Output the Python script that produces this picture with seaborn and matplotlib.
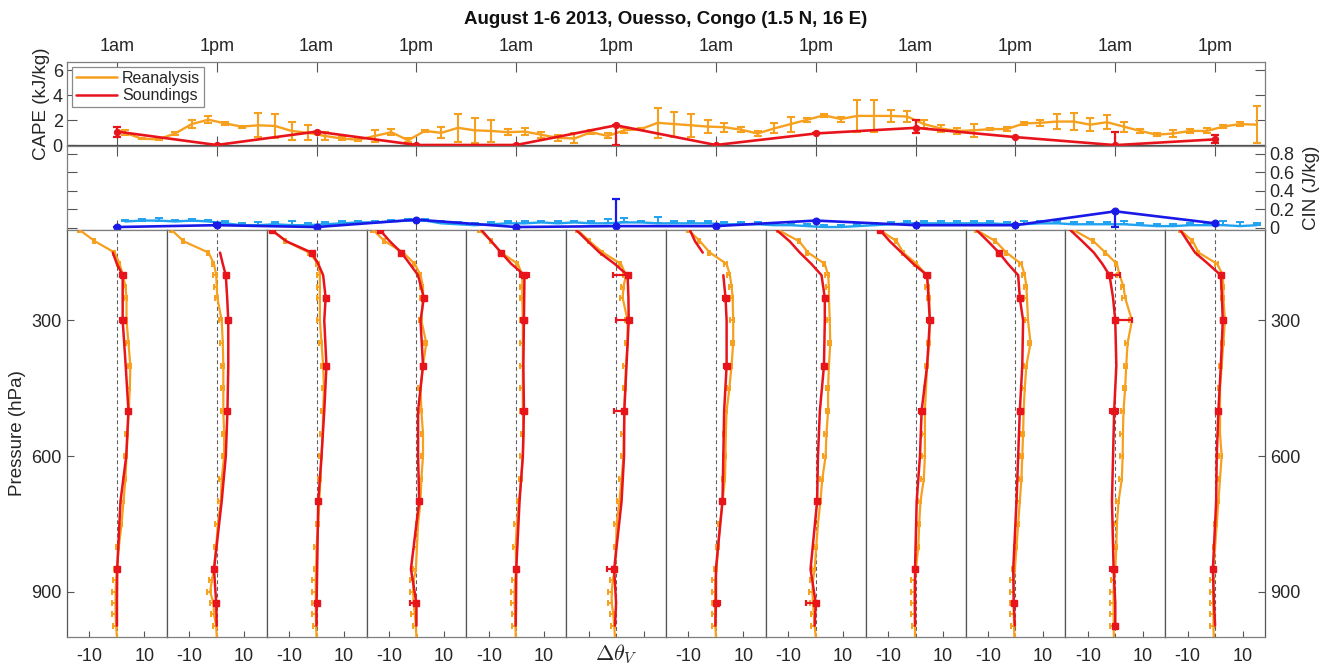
import numpy as np
import pandas as pd
import matplotlib
matplotlib.use("Agg")
import matplotlib.pyplot as plt
from matplotlib.lines import Line2D
import seaborn as sns

sns.set_theme(style="white")
plt.rcParams["font.family"] = ["Liberation Sans", "DejaVu Sans"]
plt.rcParams["mathtext.fontset"] = "cm"
plt.rcParams["axes.unicode_minus"] = False

ORANGE = "#F6A01E"
RED = "#E8141C"
LBLUE = "#20A2F0"
DBLUE = "#1A1AE8"
TEXT = "#262626"
FRAME = "#7F7F7F"
SEP = "#555555"

# ---------------- time series (hours after 01:00 local, 1 Aug 2013) ----------------
sounding_hours = [0, 12, 24, 36, 48, 60, 72, 84, 96, 108, 120, 132]
time_labels = ["1am", "1pm"] * 6
rean_hours = list(range(1, 138, 2))

rean_cape = [1.0, 0.53, 0.48, 0.95, 1.7, 2.05, 1.75, 1.5, 1.6, 1.55, 1.15, 1.0,
             0.75, 0.55, 0.45, 0.75, 1.05, 0.4, 1.15, 1.0, 1.4, 1.2, 1.15, 1.05,
             1.1, 0.85, 0.6, 0.55, 1.05, 0.75, 1.2, 1.3, 1.8, 1.7, 1.6, 1.5,
             1.45, 1.25, 0.95, 1.35, 1.7, 2.05, 2.4, 2.1, 2.35, 2.35, 2.35, 2.3,
             1.7, 1.35, 1.15, 1.2, 1.3, 1.3, 1.75, 1.8, 1.9, 1.9, 1.65, 1.85,
             1.5, 1.15, 0.85, 0.95, 1.15, 1.15, 1.5, 1.7, 1.65]
rean_cape_err = [0.2, 0.05, 0.05, 0.1, 0.35, 0.3, 0.1, 0.08, 0.95, 0.95, 0.7, 0.6,
                 0.3, 0.1, 0.1, 0.5, 0.25, 0.15, 0.1, 0.45, 1.1, 1.0, 0.9, 0.25,
                 0.3, 0.25, 0.25, 0.4, 0.15, 0.2, 0.2, 0.1, 1.2, 1.0, 0.9, 0.55,
                 0.35, 0.2, 0.2, 0.4, 0.6, 0.15, 0.1, 0.2, 1.3, 1.3, 0.5, 0.45,
                 0.3, 0.3, 0.25, 0.5, 0.1, 0.15, 0.1, 0.25, 0.6, 0.7, 0.5, 0.55,
                 0.4, 0.15, 0.1, 0.25, 0.15, 0.2, 0.15, 0.15, 1.5]

sond_cape = [1.1, 0.03, 1.1, 0.03, 0.03, 1.6, 0.03, 0.95, 1.4, 0.66, 0.02, 0.48]
sond_cape_lo = [0.4, 0, 0, 0, 0, 1.6, 0, 0, 0.4, 0, 0, 0.3]
sond_cape_hi = [0.4, 0, 0, 0, 0, 0, 0, 0, 0.65, 0, 1.05, 0.35]

rean_cin = [0.07, 0.08, 0.08, 0.07, 0.08, 0.07,
            0.05, 0.03, 0.03, 0.04, 0.03, 0.03,
            0.04, 0.05, 0.06, 0.06, 0.07, 0.08, 0.08,
            0.05, 0.04, 0.03, 0.04, 0.05,
            0.05, 0.06, 0.05, 0.06, 0.05, 0.05,
            0.06, 0.06, 0.05, 0.05, 0.05, 0.05, 0.04, 0.04,
            0.04, 0.03, 0.03, 0.02, 0.01, 0.01, 0.02, 0.03,
            0.04, 0.05, 0.05, 0.05, 0.05, 0.05, 0.05, 0.04,
            0.04, 0.05, 0.05, 0.04, 0.04, 0.04, 0.04, 0.03,
            0.02, 0.02, 0.03, 0.03, 0.03, 0.02, 0.03]
rean_cin_err = [0.02, 0.02, 0.03, 0.02, 0.02, 0.02,
                0.02, 0.02, 0.03, 0.02, 0.04, 0.02,
                0.02, 0.02, 0.02, 0.02, 0.02, 0.02, 0.02,
                0.02, 0.02, 0.02, 0.02, 0.02,
                0.02, 0.02, 0.02, 0.02, 0.02, 0.05,
                0.05, 0.02, 0.07, 0.02, 0.02, 0.02, 0.02, 0.02,
                0.02, 0.02, 0.02, 0.02, 0.02, 0.02, 0.02, 0.02,
                0.02, 0.02, 0.02, 0.02, 0.02, 0.02, 0.02, 0.02,
                0.04, 0.02, 0.02, 0.02, 0.02, 0.02, 0.04, 0.02,
                0.02, 0.02, 0.02, 0.02, 0.04, 0.04, 0.02]

sond_cin = [0.01, 0.03, 0.01, 0.09, 0.01, 0.02, 0.02, 0.08, 0.03, 0.03, 0.18, 0.05]
sond_cin_lo = [0, 0.01, 0, 0, 0, 0, 0, 0, 0, 0, 0.17, 0]
sond_cin_hi = [0, 0.02, 0, 0, 0, 0.29, 0, 0, 0, 0, 0, 0]

# ---------------- virtual potential temperature anomaly profiles ----------------
rean_levels = [100, 125, 150, 175, 200, 225, 250, 300, 350, 400, 450, 500, 550,
               600, 650, 700, 750, 800, 850, 875, 900, 925, 950, 975, 1000]
rean_spread = [0.6, 0.6, 0.6, 0.8, 1.0, 1.0, 1.0, 1.0, 0.9, 0.9, 0.9, 0.9, 0.9,
               0.9, 0.9, 0.9, 0.9, 0.9, 0.9, 1.2, 1.2, 1.2, 1.2, 1.2, np.nan]
rean_profiles = [
    [-13.6, -8.0, -0.8, 1.0, 2.2, 3.1, 3.5, 3.5, 4.2, 4.9, 4.7, 4.3, 3.9, 3.5, 3.1, 2.4, 1.7, 0.7, 0.0, -0.3, -0.5, -0.5, -0.5, -0.3, 0.0],
    [-16.4, -12.1, -3.0, -1.0, -0.2, 0.0, 0.2, 1.8, 2.2, 2.4, 2.4, 2.4, 2.7, 2.7, 1.8, 1.5, 0.4, -0.2, -1.0, -1.8, -2.4, -1.2, -1.0, -0.2, 0.0],
    [-16.4, -11.2, -2.7, 0.6, 1.2, 1.2, 1.2, 1.2, 1.8, 2.4, 2.7, 2.4, 2.2, 1.8, 1.4, 1.0, 0.6, 0.0, -0.2, -0.3, -0.3, -0.3, -0.3, -0.2, 0.0],
    [-15.8, -11.5, -4.8, -0.6, 1.5, 2.4, 2.4, 1.8, 3.6, 2.4, 1.5, 1.8, 2.4, 2.4, 1.8, 1.5, 0.6, 0.2, -0.2, -1.0, -1.2, -1.0, -0.6, -0.2, 0.0],
    [-13.3, -9.1, -5.5, 0.6, 2.2, 2.2, 2.2, 2.4, 2.4, 2.4, 2.4, 2.4, 2.7, 2.4, 1.8, 1.0, 0.2, -0.2, 0.0, -0.4, -0.6, -0.6, -0.4, -0.3, -0.2],
    [-14.0, -9.7, -4.8, 1.8, 3.6, 2.7, 2.4, 4.2, 4.2, 3.6, 3.3, 3.0, 2.8, 2.7, 2.0, 1.2, 0.2, 0.0, -0.4, -1.2, -1.6, -1.6, -1.0, -0.7, -0.4],
    [-10.0, -5.8, -2.2, 3.9, 5.1, 5.7, 6.1, 6.3, 6.3, 5.7, 4.9, 3.9, 3.6, 3.5, 3.3, 2.4, 1.5, 0.8, 0.2, -0.2, -0.3, -0.3, -0.3, -0.2, 0.0],
    [-13.7, -6.0, -2.8, 3.3, 4.5, 4.8, 4.8, 5.1, 5.3, 4.8, 4.5, 4.5, 3.9, 3.6, 2.4, 1.7, 0.8, 0.2, -0.4, -1.0, -1.2, -1.0, -0.7, -0.4, 0.0],
    [-13.0, -6.9, -4.5, 0.4, 4.0, 4.6, 5.0, 5.2, 5.0, 4.2, 3.8, 3.4, 3.4, 3.4, 3.0, 1.8, 1.3, 1.0, 0.1, -0.3, -0.4, -0.4, -0.3, -0.2, -0.2],
    [-14.2, -7.2, -3.3, 2.2, 3.4, 4.0, 4.2, 4.6, 5.5, 4.0, 3.4, 3.0, 2.8, 2.5, 2.2, 1.6, 1.0, 0.4, -0.2, -0.6, -0.6, -0.6, -0.6, -0.5, -0.4],
    [-15.2, -7.9, -3.6, 0.6, 1.6, 3.0, 3.6, 6.1, 4.5, 4.0, 3.6, 3.0, 2.8, 2.7, 2.4, 1.2, 0.6, 0.4, 0.0, -0.5, -0.6, -0.6, -0.6, -0.6, -0.5],
    [-12.7, -8.1, -6.0, 0.8, 2.8, 3.0, 3.0, 3.6, 3.0, 2.4, 1.8, 1.8, 1.8, 2.4, 1.8, 1.2, 0.6, 0.0, -0.6, -0.6, -0.7, -0.7, -0.6, -0.6, -0.5],
]

nan = np.nan
sond_levels = [100, 125, 150, 175, 200, 250, 300, 400, 500, 600, 700, 850, 925, 975]
sond_profiles = [
    [nan, nan, -1.5, 0.0, 2.1, 2.1, 2.1, 3.2, 4.2, 3.4, 1.3, 0.1, 0.0, 0.0],
    [nan, nan, 1.2, 2.2, 3.3, 3.8, 4.2, 4.2, 3.9, 3.3, 1.8, -1.0, -0.2, 0.0],
    [-16.4, -11.0, -1.8, 0.6, 2.4, 3.3, 2.8, 3.6, 2.8, 1.8, 0.6, 0.2, 0.0, 0.0],
    [-13.3, -9.7, -5.5, -2.4, 0.6, 2.7, 1.5, 2.4, 0.6, 0.6, 1.0, -2.0, 0.0, 0.0],
    [-12.7, -9.1, -5.5, -1.8, 3.0, 2.9, 2.8, 2.6, 2.8, 2.4, 1.2, 0.0, -0.1, -0.2],
    [-14.5, -10.3, -6.0, -0.5, 4.2, 4.5, 4.6, 3.8, 3.0, 2.9, 2.0, -0.7, 0.0, -0.4],
    [-9.5, -7.6, -4.8, nan, 2.7, 3.5, 3.9, 3.9, 3.0, 2.7, 2.4, 0.0, 0.0, -0.2],
    [-14.3, -9.5, -5.8, -1.6, 2.1, 3.3, 3.3, 3.0, 1.5, 0.8, 0.5, -1.9, 0.0, -0.4],
    [-13.0, -9.4, -5.1, -0.8, 4.2, 4.7, 5.2, 4.2, 2.2, 1.6, 0.4, -0.2, -0.2, -0.2],
    [-14.2, -10.0, -6.0, -2.7, 1.0, 1.6, 2.8, 2.5, 1.6, 1.0, 0.4, -0.8, -0.6, -0.2],
    [-16.4, -12.0, -7.8, -4.7, -2.1, -0.8, 0.0, 0.4, -0.4, -0.8, -1.2, -0.6, 0.0, 0.0],
    [-12.7, -10.0, -7.3, -2.5, 2.1, 2.5, 2.8, 2.1, 1.2, 0.6, 0.4, -0.8, -0.4, 0.0],
]
# (pressure, lower spread, upper spread) for the levels with a sounding error bar
sond_bars = [
    [(200, 0.8, 0.8), (300, 0.8, 0.8), (500, 0.6, 0.6), (850, 0.5, 0.5)],
    [(200, 0.6, 0.6), (300, 0.7, 0.7), (500, 0.6, 0.6), (850, 0.5, 0.5), (925, 0.5, 0.5)],
    [(100, 0.5, 0.5), (150, 0.5, 0.5), (250, 0.6, 0.6), (400, 0.6, 0.6), (700, 0.4, 0.4), (925, 0.4, 0.4)],
    [(100, 0.5, 0.5), (150, 0.5, 0.5), (250, 0.6, 0.6), (400, 0.6, 0.6), (700, 0.5, 0.5), (925, 2.4, 0.2)],
    [(150, 0.8, 0.8), (200, 1.5, 1.5), (300, 1.2, 1.2), (500, 1.0, 1.0), (850, 0.6, 0.6)],
    [(200, 5.2, 0.2), (300, 4.6, 0.2), (500, 3.6, 0.2), (850, 2.7, 0.2)],
    [(250, 0.8, 0.8), (400, 0.8, 0.8), (700, 0.5, 0.5), (925, 0.2, 1.5)],
    [(250, 0.6, 0.6), (400, 0.6, 0.6), (700, 0.5, 0.5), (925, 3.4, 0.2)],
    [(100, 0.5, 0.5), (200, 1.2, 1.2), (300, 1.0, 1.0), (500, 0.8, 0.8), (850, 0.6, 0.6)],
    [(150, 0.6, 0.6), (250, 0.6, 0.6), (500, 0.6, 0.6), (925, 0.5, 0.5)],
    [(200, 0.3, 4.0), (300, 0.6, 6.0), (500, 1.4, 1.4), (850, 1.4, 1.4), (975, 0.3, 0.3)],
    [(200, 0.7, 0.7), (300, 0.6, 0.6), (500, 0.4, 0.4), (850, 0.3, 0.3)],
]

# ---------------- figure layout (pixel boxes on a 1335 x 666 canvas) ----------------
W, H = 1335, 666
fig = plt.figure(figsize=(W / 100, H / 100), dpi=100)


def box(x0, y0, x1, y1):
    return [x0 / W, 1 - y1 / H, (x1 - x0) / W, (y1 - y0) / H]


LEFT, RIGHT = 67, 1265
ax_cape = fig.add_axes(box(LEFT, 62, RIGHT, 146))
ax_cin = fig.add_axes(box(LEFT, 146, RIGHT, 230))

for ax in (ax_cape, ax_cin):
    ax.set_xlim(-6, 138)
    ax.set_xticks(sounding_hours)
    for s in ax.spines.values():
        s.set_color(FRAME)
        s.set_linewidth(0.9)
    ax.tick_params(axis="both", which="both", direction="in", length=7, width=0.8,
                   color=SEP, labelcolor=TEXT, labelsize=13)
    ax.tick_params(axis="x", top=True, bottom=True)
    ax.tick_params(axis="y", left=True, right=True)

# CAPE panel
ax_cape.set_ylim(-0.05, 6.65)
ax_cape.axhline(0, color="#404040", lw=0.9, zorder=1)
ax_cape.errorbar(rean_hours, rean_cape, yerr=rean_cape_err, fmt="none",
                 ecolor=ORANGE, elinewidth=1.5, capsize=3, capthick=1.5, zorder=2)
cape_rean_df = pd.DataFrame({"hour": rean_hours, "cape": rean_cape})
sns.lineplot(data=cape_rean_df, x="hour", y="cape", ax=ax_cape, color=ORANGE,
             lw=1.7, sort=False, estimator=None, legend=False, zorder=3)
cape_sond_df = pd.DataFrame({"hour": sounding_hours, "cape": sond_cape})
sns.lineplot(data=cape_sond_df, x="hour", y="cape", ax=ax_cape, color=RED,
             lw=1.9, sort=False, estimator=None, legend=False, marker="o",
             markersize=4.5, markeredgecolor=RED, zorder=4)
ax_cape.errorbar(sounding_hours, sond_cape, yerr=[sond_cape_lo, sond_cape_hi],
                 fmt="none", ecolor=RED, elinewidth=1.6, capsize=3, capthick=1.6, zorder=4)
ax_cape.set_yticks([0, 2, 4, 6])
ax_cape.tick_params(axis="x", labeltop=True, labelbottom=False, pad=5)
ax_cape.tick_params(axis="y", labelleft=True, labelright=False, pad=3)
ax_cape.set_xticklabels(time_labels)
ax_cape.set_ylabel("CAPE (kJ/kg)", fontsize=13.5, color=TEXT, labelpad=2)
ax_cape.set_xlabel("")
handles = [Line2D([], [], color=ORANGE, lw=1.8), Line2D([], [], color=RED, lw=1.8)]
leg = ax_cape.legend(handles, ["Reanalysis", "Soundings"], loc="upper left",
                     fontsize=11.5, frameon=True, fancybox=False, framealpha=1,
                     edgecolor="#8a8a8a", borderpad=0.25, labelspacing=0.15,
                     handlelength=2.6, handletextpad=0.3, borderaxespad=0.3)
leg.get_frame().set_linewidth(0.9)

# CIN panel
ax_cin.set_ylim(-0.022, 0.886)
ax_cin.errorbar(rean_hours, rean_cin, yerr=[[0] * len(rean_cin_err), rean_cin_err],
                fmt="none", ecolor=LBLUE, elinewidth=1.4, capsize=3, capthick=1.4, zorder=2)
cin_rean_df = pd.DataFrame({"hour": rean_hours, "cin": rean_cin})
sns.lineplot(data=cin_rean_df, x="hour", y="cin", ax=ax_cin, color=LBLUE, lw=1.7,
             sort=False, estimator=None, legend=False, zorder=3)
cin_sond_df = pd.DataFrame({"hour": sounding_hours, "cin": sond_cin})
sns.lineplot(data=cin_sond_df, x="hour", y="cin", ax=ax_cin, color=DBLUE, lw=1.9,
             sort=False, estimator=None, legend=False, marker="o", markersize=5,
             markeredgecolor=DBLUE, zorder=4)
ax_cin.errorbar(sounding_hours, sond_cin, yerr=[sond_cin_lo, sond_cin_hi], fmt="none",
                ecolor=DBLUE, elinewidth=1.6, capsize=3, capthick=1.6, zorder=4)
ax_cin.set_yticks([0, 0.2, 0.4, 0.6, 0.8])
ax_cin.set_yticklabels(["0", "0.2", "0.4", "0.6", "0.8"])
ax_cin.tick_params(axis="x", labeltop=False, labelbottom=False)
ax_cin.tick_params(axis="y", labelleft=False, labelright=True, pad=3)
ax_cin.yaxis.set_label_position("right")
ax_cin.set_ylabel("CIN (J/kg)", fontsize=13.5, color=TEXT, labelpad=6)
ax_cin.set_xlabel("")

# Profile panels, one per sounding time
pw = (RIGHT - LEFT) / 12
for k in range(12):
    ax = fig.add_axes(box(LEFT + k * pw, 230, LEFT + (k + 1) * pw, 637))
    ax.set_xlim(-18.2, 18.2)
    ax.set_ylim(1000, 100)
    ax.axvline(0, color="#606060", lw=0.8, ls=(0, (3.5, 2.5)), zorder=1)

    rp = rean_profiles[k]
    ax.errorbar(rp, rean_levels, xerr=[rean_spread, [0.15] * len(rean_spread)],
                fmt="none", ecolor=ORANGE, elinewidth=1.4, capsize=2, capthick=1.4, zorder=2)
    sns.lineplot(x=rp, y=rean_levels, ax=ax, color=ORANGE, lw=1.6, sort=False,
                 estimator=None, legend=False, orient="y", zorder=3)

    sp = np.array(sond_profiles[k], dtype=float)
    lv = np.array(sond_levels, dtype=float)
    ok = ~np.isnan(sp)
    seg_id = np.cumsum(~ok)
    for sid in np.unique(seg_id[ok]):
        m = ok & (seg_id == sid)
        if m.sum() > 1:
            sns.lineplot(x=sp[m], y=lv[m], ax=ax, color=RED, lw=1.8, sort=False,
                         estimator=None, legend=False, orient="y", zorder=4)
    bar_p = [b[0] for b in sond_bars[k]]
    bar_x = [sp[sond_levels.index(p)] for p in bar_p]
    ax.errorbar(bar_x, bar_p, xerr=[[b[1] for b in sond_bars[k]], [b[2] for b in sond_bars[k]]],
                fmt="s", color=RED, ms=4.5, mec=RED, elinewidth=1.6, capsize=2.5,
                capthick=1.6, zorder=5)

    for name, s in ax.spines.items():
        s.set_color(SEP if name in ("left", "right") else FRAME)
        s.set_linewidth(0.9)
    ax.set_xticks([-10, 10])
    ax.tick_params(axis="x", direction="in", length=4, width=0.8, color=SEP,
                   labelsize=13, labelcolor=TEXT, pad=8, top=False, bottom=True)
    if k == 5:
        ax.set_xticklabels(["", ""])
        ax.set_xlabel(r"$\Delta\theta_V$", fontsize=16, color=TEXT, labelpad=-4)
    else:
        ax.set_xticklabels(["-10", "10"])
        ax.set_xlabel("")
    ax.set_yticks([300, 600, 900])
    if k == 0:
        ax.tick_params(axis="y", direction="in", length=5, width=0.8, color=SEP,
                       left=True, right=False, labelleft=True, labelright=False,
                       labelsize=13, labelcolor=TEXT, pad=4)
        ax.set_ylabel("Pressure (hPa)", fontsize=13.5, color=TEXT, labelpad=4)
    elif k == 11:
        ax.tick_params(axis="y", direction="in", length=5, width=0.8, color=SEP,
                       left=False, right=True, labelleft=False, labelright=True,
                       labelsize=13, labelcolor=TEXT, pad=4)
        ax.set_ylabel("")
    else:
        ax.tick_params(axis="y", left=False, right=False, labelleft=False, labelright=False)
        ax.set_ylabel("")

fig.text((LEFT + RIGHT) / 2 / W, 1 - 19 / H, "August 1-6 2013, Ouesso, Congo (1.5 N, 16 E)",
         ha="center", va="center", fontsize=13.5, fontweight="bold", color="#111111")

fig.savefig("out.png", dpi=100)
